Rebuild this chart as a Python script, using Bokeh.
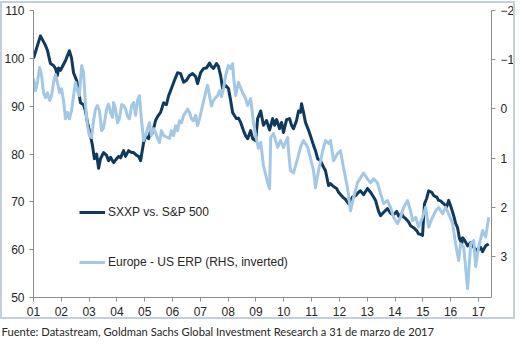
from bokeh.plotting import figure
from bokeh.models import (LinearAxis, Range1d, FixedTicker, Legend, LegendItem,
                          Title, InlineStyleSheet)
from bokeh.embed import file_html
from bokeh.resources import INLINE

# ---------------- data (decimal years) ----------------
sxxp_t = [2001.00, 2001.25, 2001.43, 2001.50, 2001.61, 2001.72, 2001.79, 2001.86, 2001.90, 2001.97,
          2002.04, 2002.15, 2002.29, 2002.37, 2002.44, 2002.55, 2002.62, 2002.69, 2002.80, 2002.87,
          2002.94, 2003.05, 2003.12, 2003.19, 2003.27, 2003.34, 2003.41, 2003.52, 2003.63, 2003.70,
          2003.77, 2003.88, 2003.99, 2004.06, 2004.13, 2004.24, 2004.31, 2004.42, 2004.53, 2004.60,
          2004.71, 2004.78, 2004.85, 2004.96, 2005.03, 2005.14, 2005.21, 2005.28, 2005.39, 2005.46,
          2005.57, 2005.68, 2005.78, 2005.86, 2005.96, 2006.07, 2006.18, 2006.29, 2006.40, 2006.50,
          2006.61, 2006.72, 2006.83, 2006.90, 2007.01, 2007.12, 2007.22, 2007.33, 2007.40, 2007.47,
          2007.58, 2007.65, 2007.73, 2007.80, 2007.91, 2008.01, 2008.09, 2008.16, 2008.23, 2008.30,
          2008.37, 2008.45, 2008.55, 2008.63, 2008.70, 2008.81, 2008.88, 2008.99, 2009.06, 2009.17,
          2009.27, 2009.38, 2009.49, 2009.60, 2009.67, 2009.74, 2009.85, 2009.92, 2009.99, 2010.10,
          2010.21, 2010.28, 2010.35, 2010.46, 2010.53, 2010.60, 2010.64, 2010.71, 2010.78, 2010.89,
          2010.96, 2011.07, 2011.14, 2011.22, 2011.32, 2011.40, 2011.50, 2011.61, 2011.68, 2011.79,
          2011.90, 2011.97, 2012.12, 2012.22, 2012.33, 2012.47, 2012.58, 2012.69, 2012.76, 2012.87,
          2013.01, 2013.12, 2013.23, 2013.30, 2013.41, 2013.48, 2013.59, 2013.73, 2013.84, 2013.95,
          2014.06, 2014.13, 2014.24, 2014.31, 2014.38, 2014.49, 2014.56, 2014.67, 2014.78, 2014.85,
          2014.92, 2014.99, 2015.06, 2015.14, 2015.21, 2015.32, 2015.39, 2015.50, 2015.57, 2015.64,
          2015.75, 2015.86, 2015.93, 2016.00, 2016.11, 2016.18, 2016.25, 2016.32, 2016.40, 2016.43,
          2016.50, 2016.61, 2016.72, 2016.83, 2016.97, 2017.08, 2017.15, 2017.26, 2017.37]
sxxp_v = [100.0, 104.7, 102.7, 101.7, 98.9, 98.5, 97.9, 96.4, 98.0, 97.5,
          98.3, 99.5, 101.6, 100.0, 97.0, 95.4, 93.3, 90.7, 90.3, 89.0,
          86.6, 83.8, 81.8, 79.0, 80.0, 77.0, 79.0, 80.3, 79.7, 78.6,
          79.3, 78.2, 79.0, 79.5, 79.2, 80.7, 79.5, 80.7, 80.3, 80.3,
          79.7, 79.5, 78.6, 82.4, 83.8, 83.2, 84.9, 84.4, 87.0, 87.8,
          88.7, 90.7, 90.3, 92.2, 93.7, 95.4, 97.0, 96.8, 95.0, 95.4,
          96.4, 96.8, 96.2, 94.7, 97.0, 97.9, 98.0, 99.0, 98.3, 97.9,
          98.9, 98.3, 96.4, 93.7, 94.3, 93.7, 91.2, 88.7, 88.0, 87.4,
          87.5, 86.6, 84.9, 83.8, 83.2, 84.9, 83.2, 82.8, 87.4, 89.0,
          86.0, 87.0, 85.0, 87.4, 86.0, 87.2, 85.3, 86.6, 84.5, 87.2,
          87.4, 86.0, 85.3, 87.0, 89.0, 88.7, 90.5, 88.7, 86.6, 85.0,
          83.8, 81.8, 80.7, 79.0, 78.6, 77.6, 76.5, 73.4, 73.8, 73.2,
          72.8, 72.0, 71.0, 70.5, 69.6, 71.0, 71.3, 72.0, 72.3, 71.5,
          72.8, 72.0, 71.0, 70.3, 68.0, 67.1, 67.8, 68.6, 67.6, 67.3,
          68.0, 67.0, 67.5, 66.8, 66.5, 65.8, 65.0, 64.6, 64.0, 63.3,
          63.2, 63.0, 69.6, 70.7, 72.3, 72.0, 71.3, 71.0, 70.3, 70.2,
          69.6, 69.0, 70.3, 69.2, 67.1, 65.5, 64.6, 62.3, 61.3, 62.5,
          62.0, 60.8, 61.5, 60.5, 59.8, 60.5, 59.6, 60.8, 61.2]

erp_t = [2001.00, 2001.07, 2001.14, 2001.22, 2001.29, 2001.36, 2001.43, 2001.50, 2001.58, 2001.65,
         2001.72, 2001.79, 2001.86, 2001.94, 2002.01, 2002.08, 2002.15, 2002.22, 2002.29, 2002.37,
         2002.44, 2002.51, 2002.58, 2002.65, 2002.73, 2002.80, 2002.87, 2002.94, 2003.01, 2003.09,
         2003.16, 2003.23, 2003.30, 2003.37, 2003.45, 2003.52, 2003.63, 2003.70, 2003.77, 2003.84,
         2003.88, 2003.95, 2004.02, 2004.09, 2004.17, 2004.24, 2004.31, 2004.38, 2004.45, 2004.53,
         2004.60, 2004.67, 2004.74, 2004.81, 2004.88, 2004.96, 2005.03, 2005.10, 2005.17, 2005.24,
         2005.32, 2005.39, 2005.46, 2005.53, 2005.60, 2005.68, 2005.75, 2005.82, 2005.89, 2005.96,
         2006.04, 2006.11, 2006.18, 2006.25, 2006.32, 2006.40, 2006.47, 2006.54, 2006.61, 2006.68,
         2006.76, 2006.83, 2006.90, 2006.97, 2007.04, 2007.12, 2007.19, 2007.26, 2007.33, 2007.40,
         2007.47, 2007.55, 2007.62, 2007.69, 2007.76, 2007.83, 2007.91, 2008.01, 2008.09, 2008.16,
         2008.19, 2008.27, 2008.37, 2008.52, 2008.63, 2008.70, 2008.81, 2008.91, 2008.99, 2009.09,
         2009.17, 2009.27, 2009.42, 2009.49, 2009.53, 2009.63, 2009.78, 2009.88, 2009.99, 2010.14,
         2010.17, 2010.24, 2010.35, 2010.50, 2010.60, 2010.71, 2010.86, 2010.96, 2011.07, 2011.14,
         2011.25, 2011.40, 2011.50, 2011.61, 2011.68, 2011.79, 2011.94, 2012.04, 2012.15, 2012.29,
         2012.40, 2012.51, 2012.65, 2012.76, 2012.87, 2013.01, 2013.12, 2013.23, 2013.37, 2013.48,
         2013.59, 2013.73, 2013.84, 2013.95, 2014.09, 2014.20, 2014.31, 2014.45, 2014.56, 2014.63,
         2014.74, 2014.85, 2014.99, 2015.10, 2015.21, 2015.35, 2015.46, 2015.57, 2015.71, 2015.82,
         2015.93, 2016.07, 2016.18, 2016.29, 2016.36, 2016.47, 2016.61, 2016.72, 2016.83, 2016.90,
         2017.01, 2017.15, 2017.26, 2017.37]
erp_v = [-0.62, -0.37, -0.54, -0.84, -0.68, -0.33, -0.23, -0.33, -0.17, -0.27,
         -0.54, -0.70, -0.54, -0.33, -0.41, -0.17, 0.20, 0.07, 0.20, 0.03,
         -0.27, -0.54, -0.37, -0.27, -0.88, -0.74, -0.07, 0.34, 0.54, 0.58,
         0.24, 0.00, -0.07, 0.03, 0.44, 0.38, 0.00, -0.10, 0.07, 0.17,
         -0.13, 0.00, 0.28, 0.20, -0.09, -0.07, 0.00, 0.15, 0.20, -0.07,
         -0.13, 0.13, -0.17, -0.27, 0.20, 0.64, 0.54, 0.40, 0.28, 0.54,
         0.40, 0.48, 0.60, 0.68, 0.44, 0.54, 0.56, 0.58, 0.60, 0.44,
         0.54, 0.34, 0.44, 0.24, 0.28, 0.13, 0.07, 0.00, 0.07, 0.20,
         0.24, 0.13, 0.34, 0.20, 0.03, -0.17, -0.33, -0.48, -0.27, -0.06,
         -0.17, -0.23, -0.27, -0.37, -0.25, -0.41, -0.68, -0.88, -0.82, -0.92,
         -0.68, -0.27, -0.54, -0.33, -0.21, -0.07, -0.21, 0.28, 0.54, 0.80,
         0.68, 1.15, 1.50, 1.62, 0.58, 0.50, 0.78, 0.64, 0.78, 0.58,
         0.85, 1.25, 1.30, 1.00, 0.78, 0.64, 0.78, 1.00, 1.25, 1.60,
         1.25, 0.85, 0.64, 0.70, 0.64, 1.05, 0.90, 0.85, 1.20, 1.60,
         2.07, 1.80, 1.50, 1.40, 1.30, 1.42, 1.50, 1.42, 1.50, 1.72,
         1.92, 1.86, 2.00, 2.20, 2.33, 2.20, 2.00, 1.86, 2.07, 2.27,
         2.20, 2.40, 2.20, 2.00, 2.40, 2.20, 2.07, 2.00, 2.13, 2.00,
         2.13, 2.33, 2.74, 3.08, 2.74, 2.80, 3.65, 2.74, 2.67, 3.20,
         2.80, 2.47, 2.60, 2.20]

year_ticks = list(range(2001, 2018))
year_labels = ["01", "02", "03", "04", "05", "06", "07", "08", "09",
               "10", "11", "12", "13", "14", "15", "16", "17"]
left_ticks = [50, 60, 70, 80, 90, 100, 110]
right_ticks = [-2, -1, 0, 1, 2, 3]

series_names = ["SXXP vs. S&P 500", "Europe - US ERP (RHS, inverted)"]
footnote = "Fuente: Datastream, Goldman Sachs Global Investment Research a 31 de marzo de 2017"

DARK = "#0f3a5f"
LIGHT = "#a3c8e6"
AXIS = "#8c8c8c"
TXT = "#262626"
FONT = "Liberation Sans"

p = figure(width=522, height=345, output_backend="svg", toolbar_location=None,
           x_range=Range1d(2001.0, 2017.47), y_range=Range1d(50, 110),
           min_border_left=33, min_border_right=31, min_border_top=10, min_border_bottom=48,
           background_fill_color="white", border_fill_color="white")
p.outline_line_color = None
p.grid.visible = False

p.extra_y_ranges = {"erp": Range1d(start=3.83, end=-2)}

r_dark = p.line(sxxp_t, sxxp_v, line_color=DARK, line_width=3, line_join="round")
r_light = p.line(erp_t, erp_v, y_range_name="erp", line_color=LIGHT, line_width=3, line_join="round")

def style_axis(ax):
    ax.axis_line_color = AXIS
    ax.major_tick_line_color = AXIS
    ax.minor_tick_line_color = None
    ax.major_tick_in = 0
    ax.major_tick_out = 4
    ax.major_label_text_font = FONT
    ax.major_label_text_font_size = "12px"
    ax.major_label_text_color = TXT
    ax.major_label_standoff = 5

xa = p.xaxis[0]
xa.ticker = FixedTicker(ticks=year_ticks)
xa.major_label_overrides = {t: l for t, l in zip(year_ticks, year_labels)}
style_axis(xa)

ya = p.yaxis[0]
ya.ticker = FixedTicker(ticks=left_ticks)
style_axis(ya)

ra = LinearAxis(y_range_name="erp", ticker=FixedTicker(ticks=right_ticks))
style_axis(ra)
p.add_layout(ra, "right")

legend = Legend(items=[LegendItem(label=series_names[0], renderers=[r_dark]),
                       LegendItem(label=series_names[1], renderers=[r_light])],
                location=(46, 25), orientation="vertical",
                glyph_width=26, glyph_height=20, label_height=20, spacing=30,
                label_standoff=3, padding=0, margin=0,
                background_fill_alpha=0, border_line_color=None,
                label_text_font=FONT, label_text_font_size="12px", label_text_color=TXT)
p.add_layout(legend)

note = Title(text=footnote, align="left", offset=-32, standoff=9,
             text_font="Lato", text_font_size="11.2px", text_font_style="normal",
             text_color="#262626")
p.add_layout(note, "below")

# light frame drawn around the chart area (as in the source image)
p.stylesheets = [InlineStyleSheet(css="""
:host::after {
  content: '';
  position: absolute;
  left: 0px; top: 1px;
  width: 515px; height: 318px;
  border: 2px solid #c5cfd9;
  box-sizing: border-box;
  pointer-events: none;
  z-index: 10;
}
""")]

open("out.html", "w").write(file_html(p, INLINE))
